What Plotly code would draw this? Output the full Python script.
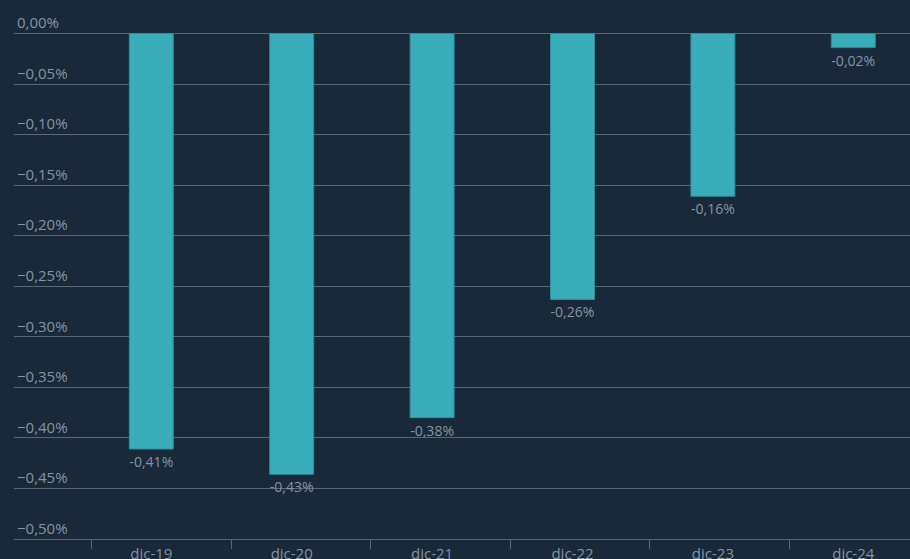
import plotly.graph_objects as go

CATEGORIES = ["dic-19", "dic-20", "dic-21", "dic-22", "dic-23", "dic-24"]
VALUES = [-0.411, -0.436, -0.380, -0.263, -0.161, -0.014]  # in %
LABELS = ["-0,41%", "-0,43%", "-0,38%", "-0,26%", "-0,16%", "-0,02%"]
Y_TICKS = [0.0, -0.05, -0.10, -0.15, -0.20, -0.25, -0.30, -0.35, -0.40, -0.45, -0.50]

BG = "#19293a"
GRID = "#56687a"
BAR = "#3aadba"
TEXT = "#8594a2"
FONT = "Open Sans"

x_pos = list(range(len(CATEGORIES)))
# offset tick marks between categories, as in the source chart
tick_marks = [i - 0.425 - 0.006 * i for i in x_pos]

fig = go.Figure(
    data=[
        go.Bar(
            x=x_pos,
            y=[v / 100 for v in VALUES],
            width=0.313,
            marker={"color": BAR, "line": {"color": "#2e8e9a", "width": 1}},
            text=LABELS,
            textposition="outside",
            textfont={"color": TEXT, "size": 15, "family": FONT},
            cliponaxis=False,
            hoverinfo="skip",
        )
    ],
    layout=go.Layout(
        width=910,
        height=559,
        paper_bgcolor=BG,
        plot_bgcolor=BG,
        margin={"l": 14, "r": 0, "t": 0, "b": 20, "autoexpand": False},
        showlegend=False,
        separators=",.",
        font={"family": FONT, "size": 15, "color": TEXT},
        xaxis={
            "range": [-0.978, 5.404],
            "tickvals": x_pos,
            "ticktext": CATEGORIES,
            "showgrid": False,
            "zeroline": False,
            "showline": True,
            "linecolor": GRID,
            "linewidth": 1,
            "ticks": "",
            "ticklabelstandoff": 1,
            "automargin": False,
            "tickfont": {"size": 15, "color": TEXT},
            "fixedrange": True,
        },
        xaxis2={
            "overlaying": "x",
            "range": [-0.978, 5.404],
            "tickvals": tick_marks,
            "showticklabels": False,
            "ticks": "outside",
            "ticklen": 9,
            "tickcolor": GRID,
            "tickwidth": 1,
            "showgrid": False,
            "zeroline": False,
            "showline": False,
            "automargin": False,
            "side": "bottom",
        },
        yaxis={
            "range": [-0.005, 0.000331],
            "tickvals": [t / 100 for t in Y_TICKS],
            "tickformat": ".2%",
            "ticklabelposition": "inside top",
            "showgrid": True,
            "gridcolor": GRID,
            "gridwidth": 1,
            "zeroline": True,
            "zerolinecolor": GRID,
            "zerolinewidth": 1,
            "automargin": False,
            "tickfont": {"size": 15, "color": TEXT},
            "fixedrange": True,
        },
    ),
)

# invisible trace so the tick-mark axis is drawn
fig.add_trace(
    go.Scatter(x=[0], y=[0], xaxis="x2", mode="markers", opacity=0, hoverinfo="skip")
)

fig.write_html(
    "out.html",
    config={"displayModeBar": False},
    post_script="document.body.style.margin='0';document.body.style.background='#19293a';",
)
